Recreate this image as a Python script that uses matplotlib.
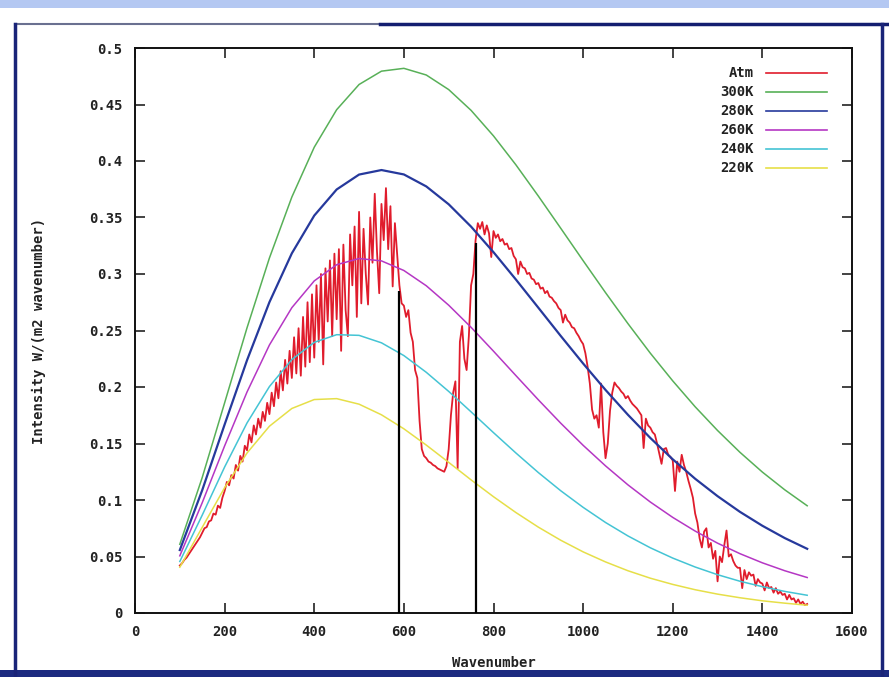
import numpy as np
import matplotlib
matplotlib.use('Agg')
import matplotlib.pyplot as plt
from matplotlib.lines import Line2D
from matplotlib.patches import Rectangle
from matplotlib.ticker import FuncFormatter

# blackbody curves, sampled every 50 cm-1
wn = np.arange(100, 1501, 50)
b300 = [0.0608, 0.1199, 0.1860, 0.2524, 0.3142, 0.3681, 0.4122, 0.4454, 0.4677, 0.4795,
        0.4820, 0.4761, 0.4632, 0.4448, 0.4222, 0.3966, 0.3690, 0.3405, 0.3118, 0.2835,
        0.2561, 0.2299, 0.2054, 0.1825, 0.1615, 0.1422, 0.1247, 0.1090, 0.0949]
b280 = [0.0557, 0.1087, 0.1668, 0.2237, 0.2751, 0.3183, 0.3517, 0.3748, 0.3880, 0.3920,
        0.3881, 0.3775, 0.3617, 0.3419, 0.3193, 0.2951, 0.2702, 0.2452, 0.2208, 0.1974,
        0.1754, 0.1549, 0.1360, 0.1188, 0.1034, 0.0895, 0.0772, 0.0663, 0.0568]
b260 = [0.0506, 0.0976, 0.1479, 0.1956, 0.2372, 0.2702, 0.2939, 0.3082, 0.3137, 0.3116,
        0.3031, 0.2896, 0.2724, 0.2528, 0.2317, 0.2101, 0.1887, 0.1680, 0.1484, 0.1302,
        0.1134, 0.0982, 0.0846, 0.0725, 0.0618, 0.0525, 0.0444, 0.0374, 0.0314]
b240 = [0.0456, 0.0866, 0.1292, 0.1682, 0.2004, 0.2243, 0.2395, 0.2463, 0.2457, 0.2391,
        0.2278, 0.2130, 0.1961, 0.1780, 0.1596, 0.1416, 0.1243, 0.1082, 0.0935, 0.0801,
        0.0682, 0.0577, 0.0486, 0.0407, 0.0339, 0.0281, 0.0233, 0.0191, 0.0157]
b220 = [0.0405, 0.0758, 0.1109, 0.1416, 0.1653, 0.1810, 0.1889, 0.1897, 0.1848, 0.1754,
        0.1630, 0.1486, 0.1333, 0.1178, 0.1029, 0.0889, 0.0760, 0.0644, 0.0541, 0.0452,
        0.0374, 0.0308, 0.0253, 0.0206, 0.0167, 0.0135, 0.0108, 0.0087, 0.0069]

# measured atmospheric spectrum, every 5 cm-1
atm_wn = np.arange(100, 1501, 5)
atm_val = [
    0.042, 0.044, 0.047, 0.049, 0.052, 0.055, 0.058, 0.061, 0.064, 0.067,
    0.071, 0.075, 0.076, 0.081, 0.082, 0.088, 0.087, 0.095, 0.093, 0.102,
    0.108, 0.116, 0.113, 0.122, 0.119, 0.131, 0.126, 0.139, 0.134, 0.148,
    0.144, 0.158, 0.151, 0.166, 0.158, 0.172, 0.164, 0.178, 0.170, 0.186,
    0.176, 0.195, 0.183, 0.204, 0.190, 0.214, 0.197, 0.224, 0.203, 0.232,
    0.208, 0.244, 0.212, 0.252, 0.210, 0.262, 0.218, 0.275, 0.222, 0.282,
    0.226, 0.290, 0.240, 0.300, 0.220, 0.305, 0.258, 0.312, 0.245, 0.318,
    0.260, 0.322, 0.232, 0.326, 0.268, 0.245, 0.335, 0.290, 0.342, 0.262,
    0.355, 0.274, 0.340, 0.300, 0.273, 0.350, 0.310, 0.371, 0.320, 0.283,
    0.362, 0.330, 0.376, 0.322, 0.360, 0.289, 0.345, 0.318, 0.290, 0.274,
    0.272, 0.262, 0.268, 0.248, 0.240, 0.215, 0.208, 0.170, 0.145, 0.139,
    0.137, 0.134, 0.133, 0.131, 0.130, 0.128, 0.127, 0.126, 0.125, 0.130,
    0.145, 0.175, 0.195, 0.205, 0.128, 0.240, 0.254, 0.225, 0.215, 0.245,
    0.290, 0.300, 0.330, 0.345, 0.340, 0.346, 0.335, 0.343, 0.336, 0.315,
    0.338, 0.332, 0.335, 0.329, 0.331, 0.326, 0.327, 0.322, 0.323, 0.316,
    0.313, 0.300, 0.311, 0.306, 0.305, 0.300, 0.301, 0.296, 0.295, 0.291,
    0.292, 0.287, 0.288, 0.283, 0.285, 0.280, 0.279, 0.276, 0.274, 0.270,
    0.268, 0.257, 0.264, 0.259, 0.257, 0.253, 0.252, 0.248, 0.245, 0.241,
    0.238, 0.230, 0.218, 0.203, 0.180, 0.172, 0.175, 0.164, 0.203, 0.160,
    0.137, 0.150, 0.179, 0.195, 0.204, 0.201, 0.199, 0.196, 0.194, 0.190,
    0.192, 0.188, 0.185, 0.183, 0.181, 0.178, 0.175, 0.146, 0.172, 0.166,
    0.164, 0.160, 0.158, 0.150, 0.141, 0.132, 0.145, 0.146, 0.140, 0.138,
    0.135, 0.108, 0.134, 0.125, 0.140, 0.131, 0.125, 0.117, 0.110, 0.102,
    0.088, 0.080, 0.066, 0.058, 0.072, 0.075, 0.058, 0.062, 0.048, 0.055,
    0.028, 0.050, 0.045, 0.060, 0.073, 0.050, 0.052, 0.046, 0.042, 0.040,
    0.040, 0.022, 0.038, 0.030, 0.036, 0.033, 0.034, 0.024, 0.030, 0.027,
    0.026, 0.020, 0.027, 0.022, 0.023, 0.018, 0.022, 0.017, 0.019, 0.016,
    0.017, 0.012, 0.016, 0.012, 0.013, 0.009, 0.012, 0.008, 0.010, 0.007,
    0.008,
]

# window edges marked with black verticals
cut_wn = [589, 760]
cut_top = [0.285, 0.327]

labels = ['Atm', '300K', '280K', '260K', '240K', '220K']
colors = ['#e01c2c', '#58b058', '#26399c', '#b537c4', '#44c4d4', '#e6df48']

mono = 'DejaVu Sans Mono'

fig = plt.figure(figsize=(8.89, 6.77), dpi=100)
fig.patch.set_facecolor('white')

# slide frame
fig.add_artist(Rectangle((0, 1 - 8/677), 1, 8/677, transform=fig.transFigure,
                         facecolor='#b4c8f2', edgecolor='none'))
fig.add_artist(Line2D([15/889, 380/889], [1 - 24/677] * 2, transform=fig.transFigure,
                      color='#6a7090', lw=1.5))
fig.add_artist(Line2D([380/889, 1], [1 - 24/677] * 2, transform=fig.transFigure,
                      color='#141e70', lw=2.5))
fig.add_artist(Line2D([15/889] * 2, [0, 1 - 24/677], transform=fig.transFigure,
                      color='#1a2478', lw=2.5))
fig.add_artist(Line2D([882/889] * 2, [0, 1 - 24/677], transform=fig.transFigure,
                      color='#1a2478', lw=2.5))
fig.add_artist(Rectangle((0, 0), 1, 7/677, transform=fig.transFigure,
                         facecolor='#1c2a80', edgecolor='none'))

ax = fig.add_axes([135/889, 64/677, 717/889, 565/677])

ax.plot(atm_wn, atm_val, color=colors[0], lw=1.3, zorder=2)
for vals, col in zip([b300, b280, b260, b240, b220], colors[1:]):
    lw = 1.6 if col == '#26399c' else 1.1
    ax.plot(wn, vals, color=col, lw=lw, zorder=3, solid_joinstyle='round')
ax.vlines(cut_wn, 0, cut_top, color='black', lw=1.6, zorder=4)

ax.set_xlim(0, 1600)
ax.set_ylim(0, 0.5)
ax.set_xticks(np.arange(0, 1601, 200))
ax.set_yticks(np.arange(0, 0.501, 0.05))
ax.yaxis.set_major_formatter(FuncFormatter(lambda v, p: '%g' % round(v, 2)))
ax.tick_params(direction='in', length=7, width=1.2, top=True, right=True,
               labelsize=10, pad=9, colors='#222222')
for lab in ax.get_xticklabels() + ax.get_yticklabels():
    lab.set_family(mono)
    lab.set_fontweight('bold')
for s in ax.spines.values():
    s.set_linewidth(1.4)
    s.set_color('#111111')

ax.set_xlabel('Wavenumber', family=mono, fontweight='bold', fontsize=10,
              color='#222222', labelpad=12)
ax.set_ylabel('Intensity W/(m2 wavenumber)', family=mono, fontweight='bold',
              fontsize=10, color='#222222', labelpad=31)

# key in the upper right, labels right-aligned before the samples
for i, (lab, col) in enumerate(zip(labels, colors)):
    y = 0.955 - i * 0.0336
    ax.text(0.8635, y, lab, transform=ax.transAxes, ha='right', va='center',
            family=mono, fontweight='bold', fontsize=10, color='#222222')
    ax.plot([0.880, 0.965], [y, y], transform=ax.transAxes, color=col, lw=1.2)

fig.savefig('out.png', dpi=100, facecolor='white')
